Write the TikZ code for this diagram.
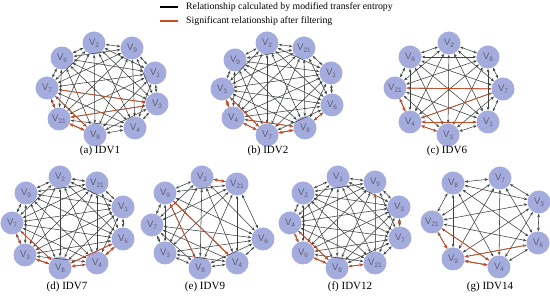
\documentclass[tikz,border=0pt]{standalone}
\usepackage{fontspec}
\setmainfont{Liberation Serif}
\setsansfont{Liberation Sans}
\usetikzlibrary{arrows.meta}
\definecolor{nodeblue}{RGB}{163,172,220}
\definecolor{edgegray}{RGB}{60,66,62}
\definecolor{redge}{RGB}{205,75,35}
\definecolor{labgray}{RGB}{95,95,115}
\newcommand\vn[1]{V\raisebox{-0.45ex}{\fontsize{6.5}{7}\selectfont #1}}
\newcommand\cgraph[3]{%
  \foreach \i in {1,...,#2}{\foreach \j in {1,...,#2}{\ifnum\i<\j \draw[edgeln] (#1\i) -- (#1\j);\fi}}%
  \foreach \i/\j in {#3}{\draw[redln] (#1\i) -- (#1\j);}%
}
\begin{document}
\begin{tikzpicture}[x=1pt,y=-1pt,
  vx/.style={circle,fill=nodeblue,draw=none,minimum size=23pt,inner sep=0pt,
    font=\sffamily\fontsize{9.5}{10}\selectfont,text=labgray},
  edgeln/.style={draw=edgegray,line width=0.55pt,{Stealth[length=3.6pt,width=2.7pt]}-{Stealth[length=3.6pt,width=2.7pt]}},
  redln/.style={draw=redge,line width=0.7pt,-{Stealth[length=4pt,width=3pt]}},
  captext/.style={font=\fontsize{11}{13}\selectfont},
  legtext/.style={font=\fontsize{9.8}{11}\selectfont,anchor=west,inner sep=0pt}]
\useasboundingbox (0,0) rectangle (550,296);
% legend
\coordinate (l1a) at (160,7); \coordinate (l1b) at (178,7);
\coordinate (l2a) at (160,21); \coordinate (l2b) at (178,21);
\draw[black,line width=1.2pt] (l1a) -- (l1b);
\draw[redge,line width=1.2pt] (l2a) -- (l2b);
\node[legtext] (t1) at (186,7) {Relationship calculated by modified transfer entropy};
\node[legtext] (t2) at (186,21) {Significant relationship after filtering};
% (a) IDV1
\node[vx] (a1) at (94,43) {\vn{2}};
\node[vx] (a2) at (132,48) {\vn{9}};
\node[vx] (a3) at (155,73) {\vn{1}};
\node[vx] (a4) at (157,104) {\vn{3}};
\node[vx] (a5) at (135,128) {\vn{4}};
\node[vx] (a6) at (95,135) {\vn{8}};
\node[vx] (a7) at (59,119) {\vn{21}};
\node[vx] (a8) at (47,88) {\vn{7}};
\node[vx] (a9) at (62,58) {\vn{6}};
\cgraph{a}{9}{8/4,8/7,8/6,4/7,7/6,6/7}
\node[captext] (ca) at (100,151) {(a) IDV1};
% (b) IDV2
\node[vx] (b1) at (267,43) {\vn{2}};
\node[vx] (b2) at (304,48) {\vn{21}};
\node[vx] (b3) at (331,73) {\vn{1}};
\node[vx] (b4) at (332,105) {\vn{6}};
\node[vx] (b5) at (305,128) {\vn{8}};
\node[vx] (b6) at (267,135) {\vn{7}};
\node[vx] (b7) at (233,118) {\vn{4}};
\node[vx] (b8) at (222,89) {\vn{3}};
\node[vx] (b9) at (235,60) {\vn{9}};
\cgraph{b}{9}{8/7,7/8,7/6,6/5,5/6,5/4,7/5,8/6}
\node[captext] (cb) at (268,151) {(b) IDV2};
% (c) IDV6
\node[vx] (c1) at (449,43) {\vn{2}};
\node[vx] (c2) at (488,57) {\vn{8}};
\node[vx] (c3) at (503,89) {\vn{7}};
\node[vx] (c4) at (488,122) {\vn{1}};
\node[vx] (c5) at (448,135) {\vn{3}};
\node[vx] (c6) at (410,122) {\vn{4}};
\node[vx] (c7) at (395,88) {\vn{21}};
\node[vx] (c8) at (410,57) {\vn{6}};
\cgraph{c}{8}{3/7,4/6,7/6,6/7,5/6,3/6}
\node[captext] (cc) at (447,151) {(c) IDV6};
% (d) IDV7
\node[vx] (d1) at (60,177) {\vn{2}};
\node[vx] (d2) at (97,183) {\vn{21}};
\node[vx] (d3) at (123,207) {\vn{1}};
\node[vx] (d4) at (123,239) {\vn{6}};
\node[vx] (d5) at (97,263) {\vn{4}};
\node[vx] (d6) at (60,268) {\vn{8}};
\node[vx] (d7) at (25,255) {\vn{3}};
\node[vx] (d8) at (12,223) {\vn{7}};
\node[vx] (d9) at (26,193) {\vn{9}};
\cgraph{d}{9}{8/7,8/6,7/6,6/7,5/6,5/4,4/5,6/4}
\node[captext] (cd) at (67,287) {(d) IDV7};
% (e) IDV9
\node[vx] (e1) at (202,177) {\vn{2}};
\node[vx] (e2) at (237,184) {\vn{21}};
\node[vx] (e3) at (263,239) {\vn{6}};
\node[vx] (e4) at (237,263) {\vn{4}};
\node[vx] (e5) at (200,268) {\vn{8}};
\node[vx] (e6) at (165,253) {\vn{3}};
\node[vx] (e7) at (152,225) {\vn{7}};
\node[vx] (e8) at (165,193) {\vn{9}};
\cgraph{e}{8}{2/1,1/2,4/8,8/4,5/8}
\node[captext] (ce) at (205,287) {(e) IDV9};
% (f) IDV12
\node[vx] (f1) at (338,177) {\vn{1}};
\node[vx] (f2) at (375,182) {\vn{9}};
\node[vx] (f3) at (399,207) {\vn{3}};
\node[vx] (f4) at (400,238) {\vn{7}};
\node[vx] (f5) at (375,263) {\vn{21}};
\node[vx] (f6) at (337,268) {\vn{8}};
\node[vx] (f7) at (303,253) {\vn{6}};
\node[vx] (f8) at (290,223) {\vn{4}};
\node[vx] (f9) at (303,193) {\vn{2}};
\cgraph{f}{9}{5/2,4/3,3/4,8/7,7/6,6/7,6/5,8/6}
\node[captext] (cf) at (350,287) {(f) IDV12};
% (g) IDV14
\node[vx] (g1) at (500,178) {\vn{7}};
\node[vx] (g2) at (539,202) {\vn{3}};
\node[vx] (g3) at (538,243) {\vn{6}};
\node[vx] (g4) at (499,267) {\vn{4}};
\node[vx] (g5) at (453,259) {\vn{9}};
\node[vx] (g6) at (432,222) {\vn{21}};
\node[vx] (g7) at (453,183) {\vn{8}};
\cgraph{g}{7}{6/5,6/4,3/5,5/4,4/5}
\node[captext] (cg) at (490,287) {(g) IDV14};
\end{tikzpicture}
\end{document}
